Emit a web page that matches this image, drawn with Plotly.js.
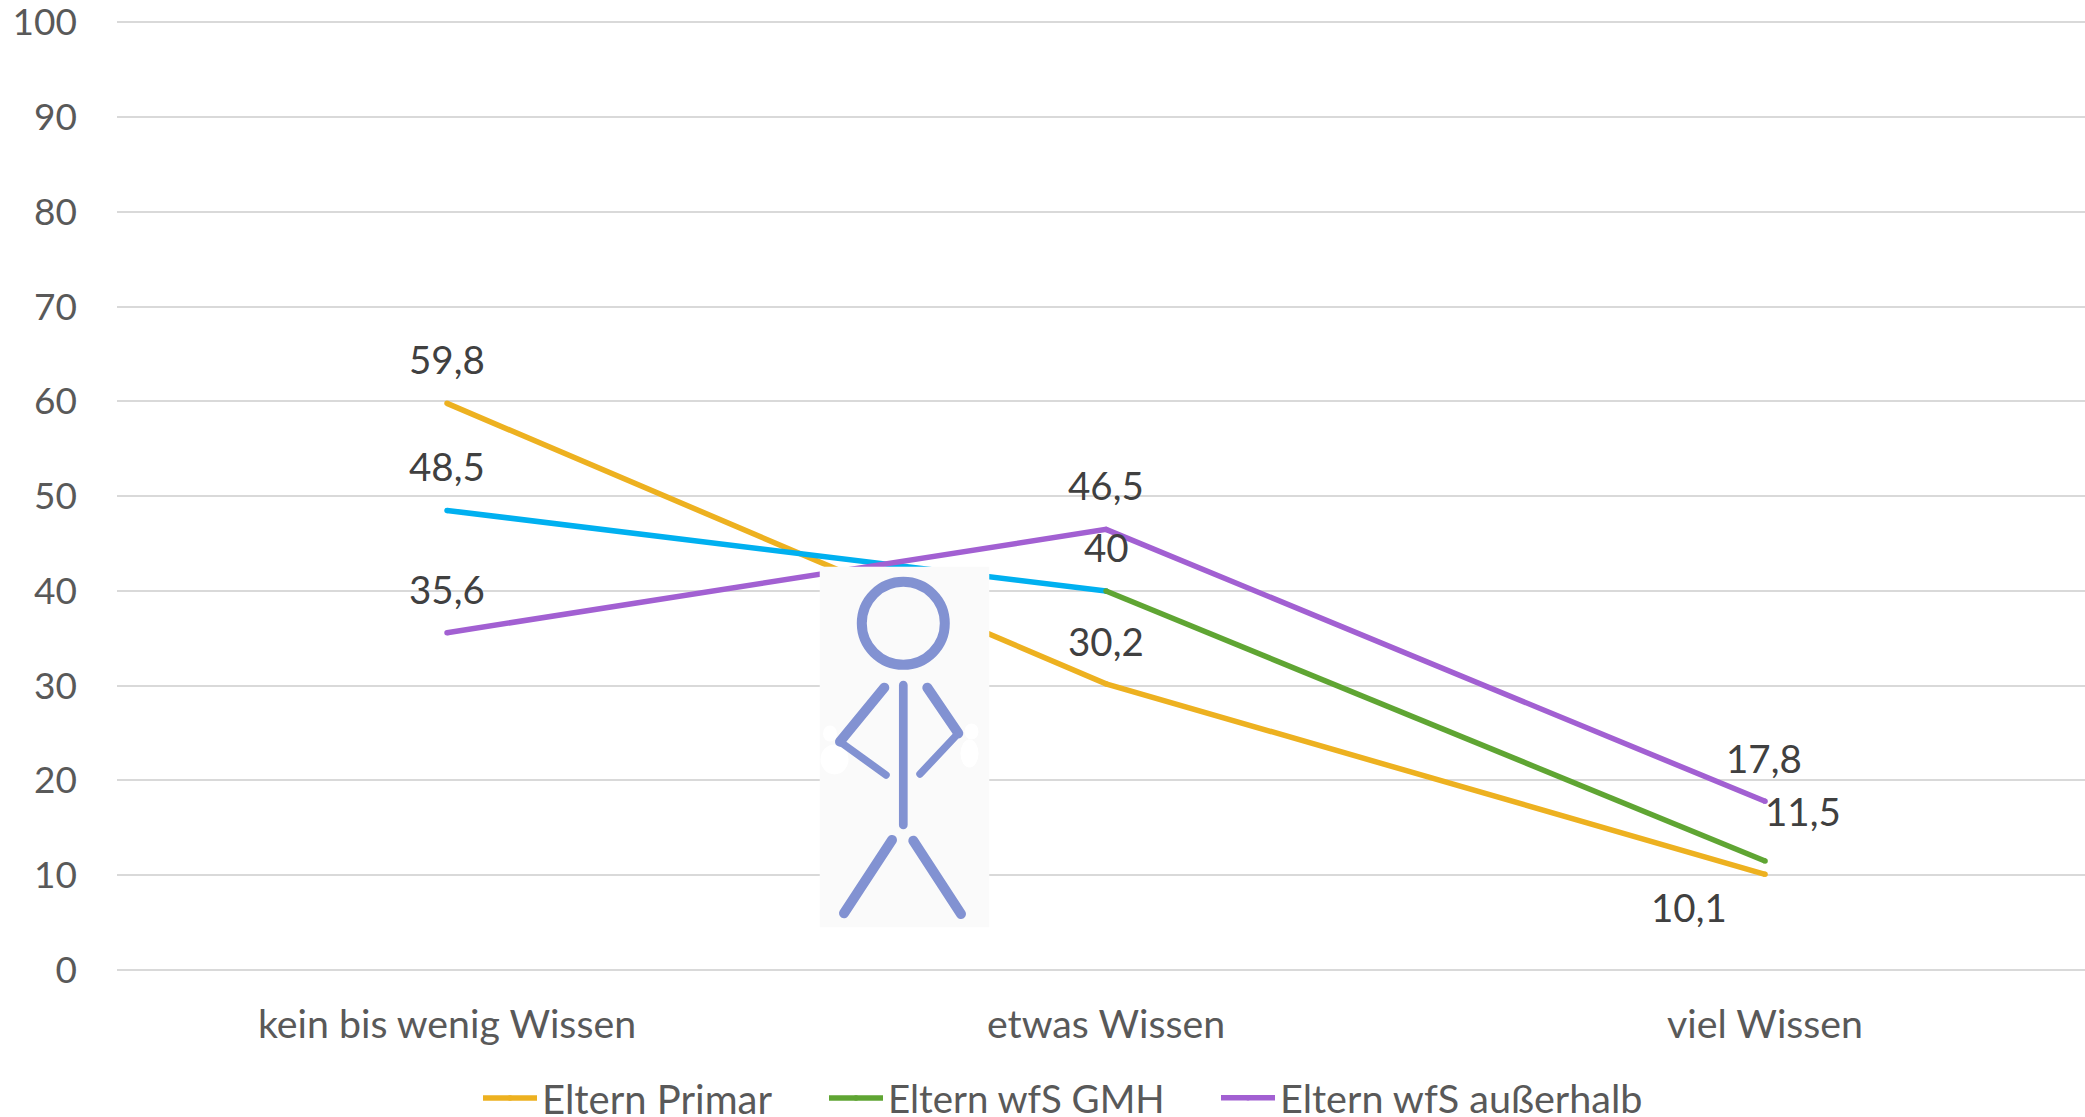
<!DOCTYPE html>
<html><head><meta charset="utf-8">
<script src="https://cdn.plot.ly/plotly-3.0.1.min.js"></script>
<style>html,body{margin:0;padding:0;background:#fff;overflow:hidden}</style>
</head><body><div id="chart" style="width:2085px;height:1117px"></div>
<script>
const categories = ['kein bis wenig Wissen', 'etwas Wissen', 'viel Wissen'];
const primar = [59.8, 30.2, 10.1];
const gmh = [48.5, 40, 11.5];
const ausserhalb = [35.6, 46.5, 17.8];
const yTicks = [0,10,20,30,40,50,60,70,80,90,100];
const names = ['Eltern Primar', 'Eltern wfS GMH', 'Eltern wfS außerhalb'];
const colors = {primar:'#EDB120', gmh:'#5FA533', blue:'#00B0F0', ausser:'#A260D2'};

const W = 2085, H = 1117, mL = 117, mT = 21.08, mB = 147;
const font = 'Lato, "Open Sans", sans-serif';

function line(y, color, name, legend, show) {
  return {x: categories, y, type:'scatter', mode:'lines+markers', name, legend,
    showlegend: show, hoverinfo:'skip', connectgaps:false,
    marker:{color, size:5.5, line:{width:0}},
    line:{color, width:5.5, shape:'linear'}};
}
const traces = [
  line(primar, colors.primar, names[0], 'legend', true),
  line([gmh[0], gmh[1], null], colors.blue, 'GMH-Abschnitt', 'legend', false),
  line([null, gmh[1], gmh[2]], colors.gmh, names[1], 'legend2', true),
  line(ausserhalb, colors.ausser, names[2], 'legend3', true)
];

function label(i, v, dx, dy) {
  return {x: categories[i], y: v, xref:'x', yref:'y', showarrow:false,
    text: String(v).replace('.', ','), xshift:dx, yshift:dy,
    xanchor:'center', yanchor:'middle',
    font:{family:font, size:38.5, color:'#404040'}};
}
const annotations = [
  label(0, primar[0], 0, 44), label(1, primar[1], 0, 43), label(2, primar[2], -76, -33),
  label(0, gmh[0], 0, 44), label(1, gmh[1], 0, 44), label(2, gmh[2], 38, 50),
  label(0, ausserhalb[0], 0, 44), label(1, ausserhalb[1], 0, 44), label(2, ausserhalb[2], -1, 43)
];

const figure = `<svg xmlns="http://www.w3.org/2000/svg" width="170" height="361" viewBox="0 0 170 361">
<rect width="170" height="361" fill="#FAFAFA"/>
<g fill="#FFFFFF"><ellipse cx="10.5" cy="167" rx="7" ry="8"/><ellipse cx="15" cy="193" rx="14" ry="15"/>
<ellipse cx="152" cy="165" rx="7" ry="8"/><ellipse cx="150" cy="187" rx="9" ry="14"/></g>
<g fill="none" stroke="#8292D2" stroke-linecap="round" stroke-linejoin="miter">
<circle cx="83.8" cy="56.8" r="41.5" stroke-width="10"/>
<path d="M83.8 118.5V258.5" stroke-width="8.7"/>
<path d="M64.8 121.2L20.5 175.2" stroke-width="10"/>
<path d="M20.5 175.2L66.5 208.5" stroke-width="7.5"/>
<path d="M107.8 121.2L138.8 166.8" stroke-width="10"/>
<path d="M138.8 166.8L100.5 207.5" stroke-width="7.5"/>
<path d="M72.5 273.5L24.5 346.8" stroke-width="10"/>
<path d="M93.8 274.2L141.5 347.5" stroke-width="10"/>
</g></svg>`;

const px = x => (x - mL) / (W - mL);
function leg(xPx, size) {
  return {x: xPx / W, y: (H - 1098) / H, xref:'container', yref:'container',
    xanchor:'left', yanchor:'middle', orientation:'h', itemwidth:54,
    bgcolor:'rgba(0,0,0,0)', borderwidth:0, itemclick:false, itemdoubleclick:false,
    font:{family:font, size, color:'#595959'}};
}

const layout = {
  width:W, height:H, showlegend:true, hovermode:false,
  paper_bgcolor:'#fff', plot_bgcolor:'#fff',
  margin:{l:mL, r:0, t:mT, b:mB, pad:0, autoexpand:false},
  xaxis:{type:'category', range:[-0.5008, 2.4855], showgrid:false, zeroline:false, showline:false,
    ticks:'', tickfont:{family:font, size:39.3, color:'#595959'}, ticklabelstandoff:28, automargin:false},
  yaxis:{range:[0,100.15], tickvals:yTicks, ticktext:yTicks.map(String), showgrid:true,
    gridcolor:'#D9D9D9', gridwidth:2, zeroline:true, zerolinecolor:'#D9D9D9', zerolinewidth:2,
    showline:false, ticks:'', tickfont:{family:font, size:37, color:'#595959'}, ticklabelstandoff:39,
    ticklabeloverflow:'allow', automargin:false},
  legend:leg(478, 40), legend2:leg(824, 38.4), legend3:leg(1216, 39.6),
  annotations,
  images:[{source:'data:image/svg+xml;charset=utf-8,' + encodeURIComponent(figure),
    xref:'paper', yref:'paper', x:px(819.5), y:(H-566.5-mB)/(H-mT-mB),
    sizex:170/(W-mL), sizey:361/(H-mT-mB), xanchor:'left', yanchor:'top',
    sizing:'stretch', layer:'above'}]
};
Plotly.newPlot('chart', traces, layout, {displayModeBar:false, staticPlot:true});
</script></body></html>
